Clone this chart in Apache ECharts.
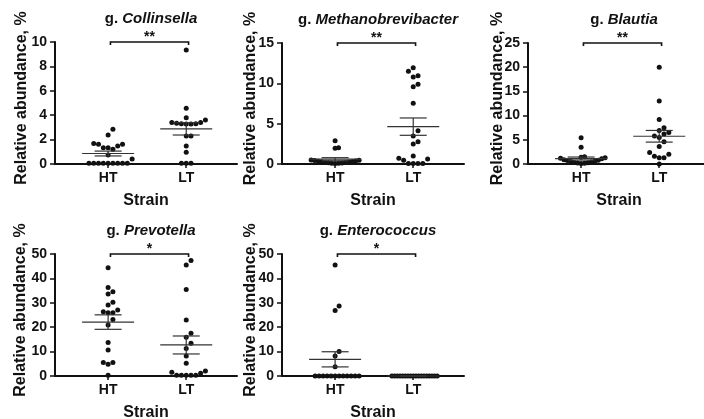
<!DOCTYPE html>
<html>
<head>
<meta charset="utf-8">
<script src="https://cdn.jsdelivr.net/npm/echarts@6/dist/echarts.min.js"></script>
<style>
  html, body { margin: 0; padding: 0; background: #fff; }
  #chart { width: 704px; height: 419px; }
</style>
</head>
<body>
<div id="chart"></div>
<script>
// groups and panels
var groups = ['HT', 'LT'];
var genera = ['Collinsella', 'Methanobrevibacter', 'Blautia', 'Prevotella', 'Enterococcus'];
var yMax = [10, 15, 25, 50, 50];
var yStep = [2, 5, 5, 10, 10];
var stars = ['**', '**', '**', '*', '*'];

// relative abundance, %
var collinsellaHT = [2.84, 2.38, 1.69, 1.61, 1.61, 1.48, 1.34, 1.34, 1.20, 0.74, 0.41, 0.06, 0.06, 0.06, 0.06, 0.06, 0.06, 0.06, 0.06, 0.06];
var collinsellaLT = [9.34, 4.56, 3.80, 3.60, 3.40, 3.40, 3.35, 3.30, 3.30, 3.28, 3.28, 2.30, 2.30, 1.48, 0.96, 0.06, 0.06, 0.06];
var methanoHT = [2.89, 2.02, 1.94, 0.50, 0.45, 0.42, 0.38, 0.35, 0.30, 0.28, 0.25, 0.20, 0.18, 0.15, 0.12, 0.10, 0.08, 0.05];
var methanoLT = [11.94, 11.50, 10.95, 10.80, 9.90, 9.58, 7.52, 4.13, 3.47, 2.76, 2.48, 0.99, 0.70, 0.62, 0.46, 0.05, 0.05, 0.05, 0.05];
var blautiaHT = [5.44, 3.44, 1.50, 1.40, 1.30, 1.20, 1.10, 0.90, 0.80, 0.70, 0.60, 0.50, 0.40, 0.30, 0.25, 0.20, 0.15, 0.10];
var blautiaLT = [20.0, 13.0, 9.2, 7.5, 6.9, 6.5, 6.2, 5.8, 5.5, 4.6, 3.6, 2.4, 2.0, 1.6, 1.3, 1.3, 0.0];
var prevotellaHT = [44.4, 36.3, 34.5, 33.6, 30.2, 29.1, 27.0, 26.3, 25.9, 25.9, 23.2, 20.9, 13.7, 10.7, 5.5, 5.5, 4.8, 0.3];
var prevotellaLT = [47.3, 45.5, 35.5, 23.0, 17.5, 15.9, 13.4, 11.3, 8.2, 5.2, 2.0, 1.5, 1.1, 0.3, 0.3, 0.3, 0.3, 0.3];
var enterococcusHT = [45.5, 28.7, 26.8, 10.0, 8.2, 3.8, 0, 0, 0, 0, 0, 0, 0, 0, 0, 0, 0, 0];
var enterococcusLT = [0, 0, 0, 0, 0, 0, 0, 0, 0, 0, 0, 0, 0, 0, 0, 0, 0, 0];

var panelData = [
  [collinsellaHT, collinsellaLT],
  [methanoHT, methanoLT],
  [blautiaHT, blautiaLT],
  [prevotellaHT, prevotellaLT],
  [enterococcusHT, enterococcusLT]
];

var grids = [
  { left: 55, top: 42, width: 182, height: 122 },
  { left: 282, top: 43, width: 182, height: 121 },
  { left: 528, top: 43, width: 182, height: 121 },
  { left: 55, top: 254, width: 182, height: 122 },
  { left: 282, top: 254, width: 182, height: 122 }
];
var yNameGap = [25, 23.5, 22.5, 26.5, 23.5];

var FONT = '"Liberation Sans", Arial, sans-serif';
var INK = '#111';

function meanSem(arr) {
  var n = arr.length, m = 0, v = 0;
  arr.forEach(function (a) { m += a; });
  m /= n;
  arr.forEach(function (a) { v += (a - m) * (a - m); });
  v /= (n - 1);
  return [m, Math.sqrt(v / n)];
}

// dot layout in pixel space: dots closer than h vertically must sit side by side
function swarm(ys, d, h, maxHalf) {
  var order = ys.map(function (y, i) { return i; })
    .sort(function (a, b) { return ys[b] - ys[a]; });
  var placed = [], off = [];
  order.forEach(function (i) {
    for (var k = 0; k < 400; k++) {
      var cands = k === 0 ? [0] : [k * d / 2, -k * d / 2];
      var ok = null;
      for (var c = 0; c < cands.length && ok === null; c++) {
        var hit = placed.some(function (p) {
          return Math.abs(p[0] - cands[c]) < d - 0.01 && Math.abs(p[1] - ys[i]) < h;
        });
        if (!hit) ok = cands[c];
      }
      if (ok !== null) { off[i] = ok; placed.push([ok, ys[i]]); break; }
    }
  });
  var mx = 0;
  off.forEach(function (o) { mx = Math.max(mx, Math.abs(o)); });
  if (mx > maxHalf) off = off.map(function (o) { return o * maxHalf / mx; });
  return off;
}

var chart = echarts.init(document.getElementById('chart'));

function buildOption(dotData) {
  var option = {
    animation: false,
    textStyle: { fontFamily: FONT },
    title: [],
    grid: [],
    xAxis: [],
    yAxis: [],
    series: []
  };
  grids.forEach(function (g, i) {
    option.grid.push({
      left: g.left, top: g.top, width: g.width, height: g.height,
      containLabel: false,
      outerBoundsMode: 'none'
    });
    option.title.push({
      text: '{g|g. }{i|' + genera[i] + '}',
      left: g.left + g.width / 2,
      top: g.top - 36,
      textAlign: 'center',
      textStyle: {
        rich: {
          g: { fontFamily: FONT, fontSize: 15, fontWeight: 'bold', color: INK },
          i: { fontFamily: FONT, fontSize: 15, fontWeight: 'bold', fontStyle: 'italic', color: INK }
        }
      }
    });
    option.xAxis.push({
      type: 'value',
      gridIndex: i,
      min: 0.32,
      max: 2.65,
      splitLine: { show: false },
      axisLine: { show: true, onZero: false, lineStyle: { color: INK, width: 2 } },
      axisTick: { show: true, customValues: [1, 2], length: 4, lineStyle: { color: INK, width: 1.5 } },
      axisLabel: {
        customValues: [1, 2],
        formatter: function (v) { return groups[Math.round(v) - 1]; },
        margin: 7, fontSize: 14, fontWeight: 'bold', color: INK, fontFamily: FONT
      },
      name: 'Strain',
      nameLocation: 'middle',
      nameGap: 29,
      nameMoveOverlap: false,
      nameTextStyle: { fontSize: 16, fontWeight: 'bold', color: INK, fontFamily: FONT }
    });
    option.yAxis.push({
      type: 'value',
      gridIndex: i,
      min: 0,
      max: yMax[i],
      interval: yStep[i],
      splitLine: { show: false },
      axisLine: { show: true, lineStyle: { color: INK, width: 2 } },
      axisTick: { show: true, length: 5, lineStyle: { color: INK, width: 1.5 } },
      axisLabel: { margin: 8, fontSize: 14, fontWeight: 'bold', color: INK, fontFamily: FONT },
      name: 'Relative abundance, %',
      nameLocation: 'middle',
      nameGap: yNameGap[i],
      nameMoveOverlap: false,
      nameTextStyle: {
        fontSize: 16, fontWeight: 'bold', color: INK, fontFamily: FONT,
        padding: [0, 0, 0, 10]
      }
    });

    // dots
    panelData[i].forEach(function (vals, j) {
      option.series.push({
        type: 'scatter',
        xAxisIndex: i,
        yAxisIndex: i,
        symbolSize: 5,
        itemStyle: { color: INK, opacity: 1 },
        data: dotData ? dotData[i][j] : vals.map(function (v) { return [j + 1, v]; }),
        z: 2
      });
    });

    // mean and SEM
    option.series.push({
      type: 'custom',
      xAxisIndex: i,
      yAxisIndex: i,
      z: 3,
      data: panelData[i].map(function (vals, j) {
        var ms = meanSem(vals);
        return [j + 1, ms[0], ms[1]];
      }),
      renderItem: function (params, api) {
        var x = api.value(0), m = api.value(1), s = api.value(2);
        var c = api.coord([x, m]);
        var t = api.coord([x, m + s]);
        var b = api.coord([x, Math.max(m - s, 0)]);
        var st = { stroke: '#333', lineWidth: 1.2 };
        return {
          type: 'group',
          children: [
            { type: 'line', shape: { x1: c[0] - 26, y1: c[1], x2: c[0] + 26, y2: c[1] }, style: st },
            { type: 'line', shape: { x1: c[0], y1: t[1], x2: c[0], y2: b[1] }, style: st },
            { type: 'line', shape: { x1: c[0] - 13.5, y1: t[1], x2: c[0] + 13.5, y2: t[1] }, style: st },
            { type: 'line', shape: { x1: c[0] - 13.5, y1: b[1], x2: c[0] + 13.5, y2: b[1] }, style: st }
          ]
        };
      }
    });

    // significance bracket
    option.series.push({
      type: 'custom',
      xAxisIndex: i,
      yAxisIndex: i,
      z: 4,
      data: [[1.03, 2.03, yMax[i]]],
      renderItem: (function (label) {
        return function (params, api) {
          var p1 = api.coord([api.value(0), api.value(2)]);
          var p2 = api.coord([api.value(1), api.value(2)]);
          return {
            type: 'group',
            children: [
              {
                type: 'polyline',
                shape: { points: [[p1[0], p1[1] + 3], [p1[0], p1[1]], [p2[0], p2[1]], [p2[0], p2[1] + 3]] },
                style: { stroke: INK, lineWidth: 1.6, fill: null }
              },
              {
                type: 'text',
                x: (p1[0] + p2[0]) / 2,
                y: p1[1] + 2,
                style: {
                  text: label, fontSize: 14, fontWeight: 'bold', fontFamily: FONT,
                  fill: INK, align: 'center', verticalAlign: 'bottom'
                }
              }
            ]
          };
        };
      })(stars[i])
    });
  });
  return option;
}

chart.setOption(buildOption(null));

// lay the dots out side by side, like a scatter dot plot
var dotData = panelData.map(function (pair, i) {
  var p1 = chart.convertToPixel({ gridIndex: i }, [1, 0]);
  var p2 = chart.convertToPixel({ gridIndex: i }, [2, 0]);
  var pxPerUnit = p2[0] - p1[0];
  return pair.map(function (vals, j) {
    var ys = vals.map(function (v) { return chart.convertToPixel({ gridIndex: i }, [j + 1, v])[1]; });
    var off = swarm(ys, 4.8, 6, 24);
    return vals.map(function (v, k) { return [j + 1 + off[k] / pxPerUnit, v]; });
  });
});

chart.setOption(buildOption(dotData), true);
</script>
</body>
</html>
